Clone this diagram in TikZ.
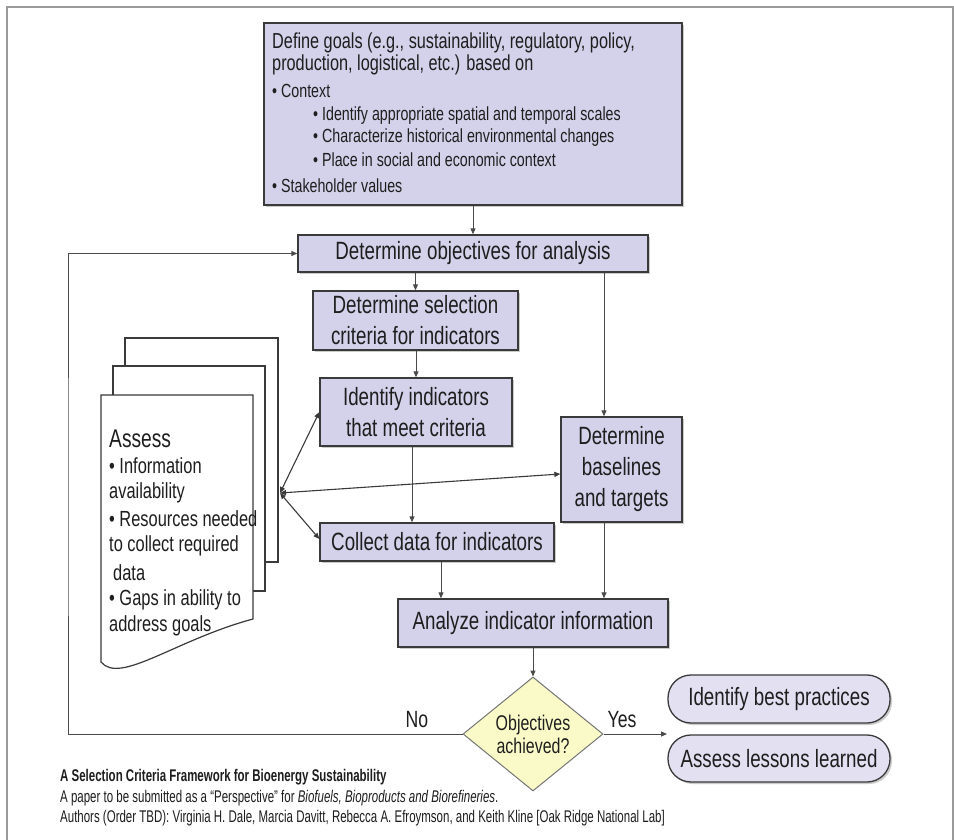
\documentclass[tikz,border=0pt]{standalone}
\usepackage{fontspec}
\setmainfont{Liberation Sans}[FakeStretch=0.75]
\newfontfamily\capfont{Liberation Sans}[FakeStretch=0.68]
\usetikzlibrary{shapes.geometric,shadows,arrows.meta,calc}
\definecolor{lav}{HTML}{D4D1EA}
\definecolor{lavlight}{HTML}{E3E0F2}
\definecolor{dyellow}{HTML}{FAFAC8}
\definecolor{edge}{HTML}{3A3A3A}
\definecolor{conn}{HTML}{4A4A4A}
\definecolor{txt}{HTML}{1E1E1E}
\definecolor{frame}{HTML}{9A9A9A}
\tikzset{
  boxstyle/.style={draw=edge, line width=1.3pt, fill=lav, inner sep=0pt, align=center,
    text=txt, font=\fontsize{25}{31}\selectfont,
    drop shadow={shadow xshift=2pt, shadow yshift=-2pt, fill=black!40}},
  ovalstyle/.style={boxstyle, fill=lavlight, rounded corners=23pt},
  decision/.style={diamond, draw=edge!70, line width=1pt, fill=dyellow, inner sep=0pt,
    aspect=1.23, minimum width=140pt, minimum height=114pt, align=center, text=txt,
    font=\fontsize{21.3}{23}\selectfont},
  arr/.style={draw=conn, line width=1pt, -{Triangle[length=6pt,width=5pt]}},
  dblarr/.style={draw=edge, line width=1.1pt, {Triangle[length=6pt,width=5pt]}-{Triangle[length=6pt,width=5pt]}},
  goaltxt/.style={anchor=west, inner sep=0pt, text=txt, font=\fontsize{21.7}{24}\selectfont},
  subtxt/.style={anchor=west, inner sep=0pt, text=txt, font=\fontsize{19}{22}\selectfont},
  assesstxt/.style={anchor=west, inner sep=0pt, text=txt, font=\fontsize{21.9}{26}\selectfont},
  captxt/.style={anchor=west, inner sep=0pt, text=txt, font=\capfont\fontsize{16.9}{18}\selectfont},
  page/.style={draw=edge, line width=1.2pt, fill=white},
  lbl/.style={inner sep=0pt, text=txt, font=\fontsize{23.5}{26}\selectfont}
}
\begin{document}
\begin{tikzpicture}[x=1pt,y=-1pt]
\useasboundingbox (0,0) rectangle (954,840);
\fill[white] (0,0) rectangle (954,840);
% outer frame
\draw[frame, line width=2pt] (7,840) -- (7,7) -- (953,7) -- (953,840);

% goals box
\node[boxstyle, minimum width=418pt, minimum height=182pt] (goals) at (473,114) {};
\node[goaltxt] (g1) at (272,43) {Define goals (e.g., sustainability, regulatory, policy,};
\node[goaltxt] (g2) at (272,65) {production, logistical, etc.) based on};
\node[subtxt] (g3) at (272,91) {• Context};
\node[subtxt] (g4) at (313,116) {• Identify appropriate spatial and temporal scales};
\node[subtxt] (g5) at (313,138) {• Characterize historical environmental changes};
\node[subtxt] (g6) at (313,160) {• Place in social and economic context};
\node[subtxt] (g7) at (272,186) {• Stakeholder values};

% process boxes
\node[boxstyle, minimum width=350pt, minimum height=37pt] (obj) at (473,253.5) {Determine objectives for analysis};
\node[boxstyle, minimum width=205pt, minimum height=59pt] (sel) at (415.5,320.5) {Determine selection\\criteria for indicators};
\node[boxstyle, minimum width=192pt, minimum height=68pt] (idf) at (416,412) {Identify indicators\\that meet criteria};
\node[boxstyle, minimum width=234pt, minimum height=38pt] (coll) at (437,542) {Collect data for indicators};
\node[boxstyle, minimum width=121pt, minimum height=105pt] (bas) at (621.5,469.5) {Determine\\baselines\\and targets};
\node[boxstyle, minimum width=270pt, minimum height=48pt] (ana) at (533,623) {Analyze indicator information};
\node[decision] (dia) at (533,734) {Objectives\\achieved?};
\node[ovalstyle, minimum width=222pt, minimum height=48pt] (best) at (779,699) {Identify best practices};
\node[ovalstyle, minimum width=222pt, minimum height=47pt] (less) at (779,758.5) {Assess lessons learned};

% document stack
\draw[page] (125,338) rectangle (278,562);
\draw[page] (113,366) rectangle (265,591);
\draw[page] (101,395) -- (253,395) -- (253,619) .. controls (175,640) and (120,685) .. (101,662) -- cycle;
\node[assesstxt, font=\fontsize{25.6}{28}\selectfont] (a0) at (109,439) {Assess};
\node[assesstxt] (a1) at (109,466) {• Information};
\node[assesstxt] (a2) at (109,493) {availability};
\node[assesstxt] (a3) at (109,519) {• Resources needed};
\node[assesstxt] (a4) at (109,546) {to collect required};
\node[assesstxt] (a5) at (113,573) {data};
\node[assesstxt] (a6) at (109,600) {• Gaps in ability to};
\node[assesstxt] (a7) at (109,626) {address goals};
\coordinate (hub) at (280,493);

% connectors
\draw[arr] (goals.south) -- (obj.north);
\draw[arr] (sel.north |- obj.south) -- (sel.north);
\draw[arr] ([xshift=-17.5pt]bas.north |- obj.south) -- ([xshift=-17.5pt]bas.north);
\draw[arr] (idf.north |- sel.south) -- (idf.north);
\draw[arr] ([xshift=-4pt]idf.south) -- ([xshift=-4pt]idf.south |- coll.north);
\draw[arr] ([xshift=4pt]coll.south) -- ([xshift=4pt]coll.south |- ana.north);
\draw[arr] ([xshift=-17.5pt]bas.south) -- ([xshift=-17.5pt]bas.south |- ana.north);
\draw[arr] (ana.south) -- (dia.north);
\draw[dblarr] (hub) -- (idf.west);
\draw[dblarr] (hub) -- ([yshift=-4.5pt]bas.west);
\draw[dblarr] (hub) -- ([yshift=3pt]coll.west);

\coordinate (fb) at (68,500);
\draw[arr] (dia.west) -| (fb) |- (obj.west);
\coordinate (yesend) at (667,734);
\draw[arr] (dia.east) -- (yesend);
\node[lbl] (no) at (417,720) {No};
\node[lbl] (yes) at (622,720) {Yes};

% caption
\node[captxt, font=\capfont\bfseries\fontsize{16.9}{18}\selectfont] (c1) at (60,777) {A Selection Criteria Framework for Bioenergy Sustainability};
\node[captxt] (c2) at (60,798) {A paper to be submitted as a “Perspective” for \textit{Biofuels, Bioproducts and Biorefineries}.};
\node[captxt] (c3) at (60,818) {Authors (Order TBD): Virginia H. Dale, Marcia Davitt, Rebecca A. Efroymson, and Keith Kline [Oak Ridge National Lab]};
\end{tikzpicture}
\end{document}
